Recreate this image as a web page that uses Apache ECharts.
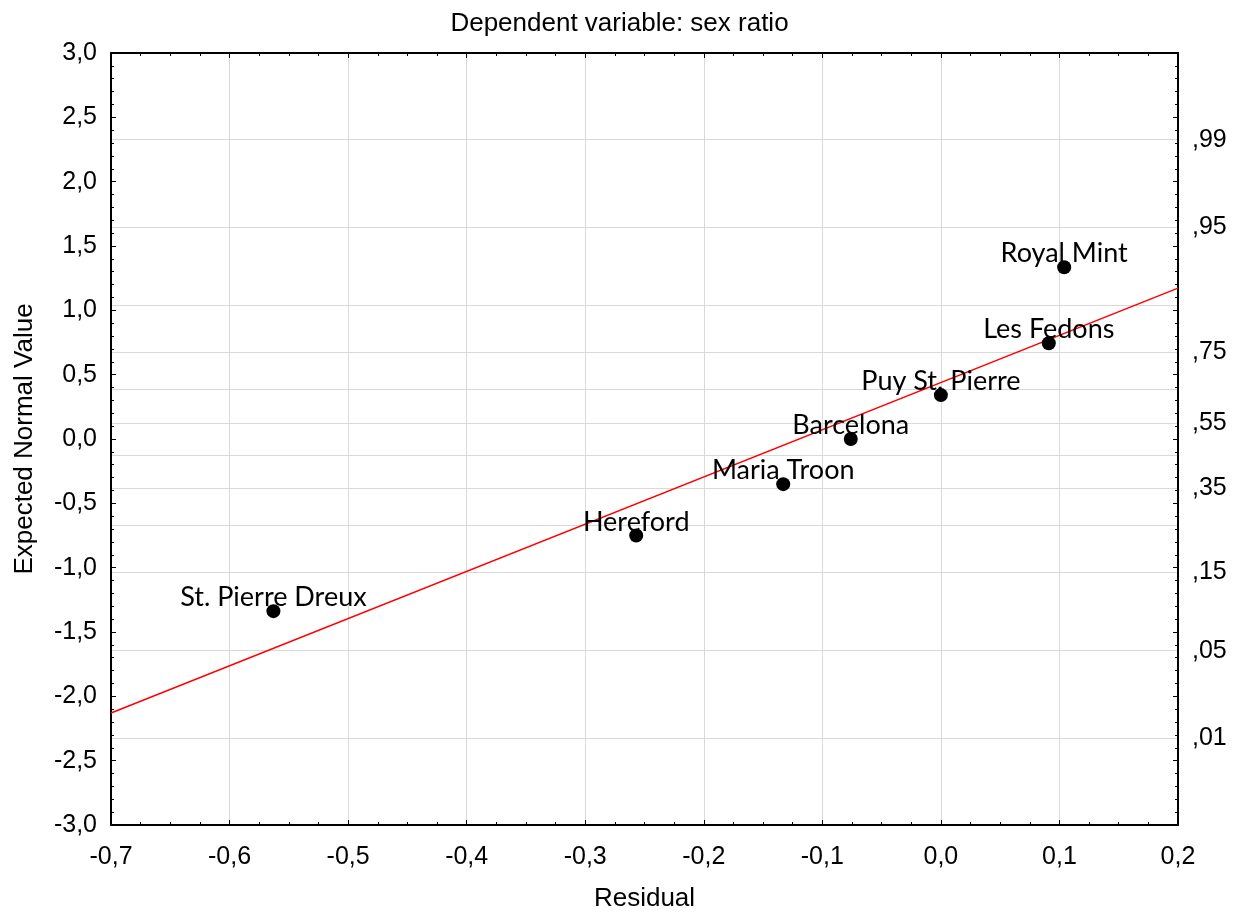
<!DOCTYPE html>
<html>
<head>
<meta charset="utf-8">
<script src="https://cdn.jsdelivr.net/npm/echarts@6/dist/echarts.min.js"></script>
<style>
  html, body { margin: 0; padding: 0; background: #fff; }
  #chart { width: 1239px; height: 917px; }
</style>
</head>
<body>
<div id="chart"></div>
<script>
// sites and their residuals / expected normal values
const sites = ['St. Pierre Dreux', 'Hereford', 'Maria Troon', 'Barcelona', 'Puy St. Pierre', 'Les Fedons', 'Royal Mint'];
const residuals = [-0.563, -0.257, -0.133, -0.076, 0.0, 0.091, 0.104];
const expected = [-1.338, -0.750, -0.351, 0.0, 0.341, 0.744, 1.335];

// fitted line ends
const fitX = [-0.7, 0.2];
const fitY = [-2.129, 1.173];

// right axis: probability labels at their normal quantiles
const probLabels = [',01', ',05', ',15', ',35', ',55', ',75', ',95', ',99'];
const probZ = [-2.326, -1.645, -1.036, -0.385, 0.126, 0.674, 1.645, 2.326];
// horizontal grid lines (every probability level)
const gridZ = [-2.326, -1.645, -1.036, -0.674, -0.385, -0.126, 0.126, 0.385, 0.674, 1.036, 1.645, 2.326];

const fmtComma = v => v.toFixed(1).replace('.', ',');
const tickFont = { fontFamily: 'Liberation Sans, Arial', fontSize: 25, color: '#000' };
const nameFont = { fontFamily: 'Liberation Sans, Arial', fontSize: 26, color: '#000' };

const chart = echarts.init(document.getElementById('chart'));

const frameLine = { show: true, onZero: false, lineStyle: { color: '#000', width: 2 } };
const tickIn = { show: true, inside: true, length: 5, lineStyle: { color: '#000', width: 1 } };
const minorIn = n => ({ show: true, splitNumber: n, length: 3, lineStyle: { color: '#000', width: 1 } });

const option = {
    animation: false,
    backgroundColor: '#fff',
    title: {
        text: 'Dependent variable: sex ratio',
        left: 'center',
        top: 6,
        textStyle: { fontFamily: 'Liberation Sans, Arial', fontSize: 26, fontWeight: 'normal', color: '#000' }
    },
    grid: { left: 111, right: 61, top: 53, bottom: 92 },
    xAxis: [
        {
            type: 'value',
            position: 'bottom',
            min: -0.7,
            max: 0.2,
            interval: 0.1,
            name: 'Residual',
            nameLocation: 'middle',
            nameGap: 61,
            nameTextStyle: nameFont,
            axisLine: frameLine,
            axisTick: tickIn,
            minorTick: minorIn(4),
            axisLabel: Object.assign({ margin: 20, formatter: fmtComma }, tickFont),
            splitLine: { show: true, lineStyle: { color: '#d9d9d9', width: 1 } }
        },
        {
            type: 'value',
            position: 'top',
            min: -0.7,
            max: 0.2,
            interval: 0.1,
            axisLine: frameLine,
            axisTick: tickIn,
            minorTick: minorIn(4),
            axisLabel: { show: false },
            splitLine: { show: false }
        }
    ],
    yAxis: [
        {
            type: 'value',
            position: 'left',
            min: -3,
            max: 3,
            interval: 0.5,
            name: 'Expected Normal Value',
            nameLocation: 'middle',
            nameGap: 73,
            nameTextStyle: nameFont,
            axisLine: frameLine,
            axisTick: tickIn,
            minorTick: minorIn(5),
            axisLabel: Object.assign({ margin: 14, formatter: fmtComma }, tickFont),
            splitLine: { show: false }
        },
        {
            type: 'value',
            position: 'right',
            min: -3,
            max: 3,
            interval: 0.5,
            axisLine: frameLine,
            axisTick: tickIn,
            minorTick: minorIn(5),
            axisLabel: { show: false },
            splitLine: { show: false }
        },
        {
            // probability scale: labels + horizontal grid
            type: 'value',
            position: 'right',
            min: -3,
            max: 3,
            axisLine: { show: false, onZero: false },
            axisTick: { show: false, customValues: gridZ },
            axisLabel: Object.assign({
                margin: 14,
                customValues: probZ,
                formatter: function (v) {
                    let best = 0;
                    probZ.forEach((z, i) => { if (Math.abs(z - v) < Math.abs(probZ[best] - v)) best = i; });
                    return probLabels[best];
                }
            }, tickFont),
            splitLine: { show: true, lineStyle: { color: '#d9d9d9', width: 1 } }
        }
    ],
    series: [
        {
            name: 'fit',
            type: 'line',
            xAxisIndex: 0,
            yAxisIndex: 0,
            data: fitX.map((x, i) => [x, fitY[i]]),
            showSymbol: false,
            symbol: 'none',
            lineStyle: { color: '#ff0000', width: 1.5 },
            z: 3
        },
        {
            name: 'sites',
            type: 'scatter',
            xAxisIndex: 0,
            yAxisIndex: 0,
            data: residuals.map((x, i) => [x, expected[i]]),
            symbol: 'circle',
            symbolSize: 14,
            itemStyle: { color: '#000', opacity: 1 },
            label: {
                show: true,
                position: 'top',
                distance: 0,
                offset: [0, 7],
                formatter: p => sites[p.dataIndex],
                fontFamily: 'Lato, Carlito, sans-serif',
                fontSize: 27,
                color: '#000'
            },
            z: 4
        }
    ]
};

chart.setOption(option);
</script>
</body>
</html>
